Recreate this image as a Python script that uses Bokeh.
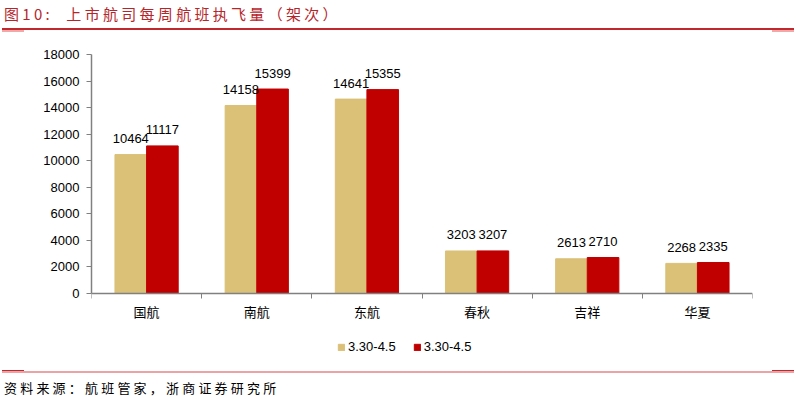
import numpy as np
from bokeh.plotting import figure
from bokeh.models import Range1d, FixedTicker, Legend, LegendItem, Div, CustomJSTickFormatter
from bokeh.layouts import column
from bokeh.core.properties import value
from bokeh.embed import file_html
from bokeh.resources import INLINE

# ---------------- data ----------------
categories = ["国航", "南航", "东航", "春秋", "吉祥", "华夏"]
series_a = [10464, 14158, 14641, 3203, 2613, 2268]
series_b = [11117, 15399, 15355, 3207, 2710, 2335]
legend_labels = ["3.30-4.5", "3.30-4.5"]
y_ticks = [0, 2000, 4000, 6000, 8000, 10000, 12000, 14000, 16000, 18000]
y_max = 18000
title_text = "图10:&nbsp;&nbsp;上市航司每周航班执飞量（架次）"
source_text = "资料来源：航班管家，浙商证券研究所"

COL_A = "#dbc077"
COL_B = "#c00000"
AXIS_COL = "#808080"

n = len(categories)
centers = np.arange(n) + 0.5
bw = 0.287
xa = centers - bw / 2
xb = centers + bw / 2

# layout: frame holds the value area (239 px) plus room below zero for labels & legend (69 px)
VAL_PX = 239
BELOW_PX = 69
y_min = -y_max * BELOW_PX / VAL_PX

# ---------------- title ----------------
title_div = Div(width=786, height=26, text=f"""
<div style="position:relative;width:786px;height:26px;">
  <div style="position:absolute;left:-1px;top:0px;font-family:'Noto Sans CJK SC';font-size:15px;line-height:18px;letter-spacing:3.3px;color:#b5262b;white-space:nowrap;">{title_text}</div>
  <div style="position:absolute;left:-3px;top:23px;width:792px;height:2px;background:#c0282d;"></div>
  <div style="position:absolute;left:-3px;top:25px;width:22px;height:2px;background:#f0a8a8;"></div>
  <div style="position:absolute;left:767px;top:25px;width:22px;height:2px;background:#f0a8a8;"></div>
</div>""")

# ---------------- plot ----------------
p = figure(width=786, height=18 + VAL_PX + BELOW_PX + 2,
           x_range=Range1d(0, n), y_range=Range1d(y_min, y_max),
           output_backend="svg", toolbar_location=None,
           min_border_left=91, min_border_right=34, min_border_top=18, min_border_bottom=2)
p.xgrid.visible = False
p.ygrid.visible = False
p.outline_line_color = None
p.background_fill_color = "white"
p.border_fill_color = "white"

ra = p.vbar(x=xa, top=series_a, width=bw, fill_color=COL_A, line_color=COL_A)
rb = p.vbar(x=xb, top=series_b, width=bw, fill_color=COL_B, line_color=COL_B)

p.text(x=xa, y=series_a, text=[str(v) for v in series_a], text_align="center",
       text_baseline="alphabetic", y_offset=-16, text_font=value("Liberation Sans"),
       text_font_size="13px", text_color="#000000")
p.text(x=xb, y=series_b, text=[str(v) for v in series_b], text_align="center",
       text_baseline="alphabetic", y_offset=-16, text_font=value("Liberation Sans"),
       text_font_size="13px", text_color="#000000")

# y axis
yax = p.yaxis[0]
yax.ticker = FixedTicker(ticks=y_ticks)
yax.bounds = (0, y_max)
yax.minor_tick_line_color = None
yax.major_tick_in = 0
yax.major_tick_out = 5
yax.major_tick_line_color = AXIS_COL
yax.axis_line_color = AXIS_COL
yax.axis_line_width = 1.5
yax.major_label_standoff = 7
yax.major_label_text_font = "Liberation Sans"
yax.major_label_text_font_size = "13px"
yax.major_label_text_color = "#000000"

# x axis, drawn at value 0
xax = p.xaxis[0]
xax.fixed_location = 0
xax.ticker = FixedTicker(ticks=list(centers), minor_ticks=list(range(n + 1)))
xax.formatter = CustomJSTickFormatter(args=dict(labels=categories),
                                      code="return labels[Math.floor(tick)] || '';")
xax.major_tick_line_color = None
xax.major_tick_in = 0
xax.major_tick_out = 5
xax.minor_tick_in = 0
xax.minor_tick_out = 5
xax.minor_tick_line_color = AXIS_COL
xax.axis_line_color = AXIS_COL
xax.axis_line_width = 1.5
xax.major_label_standoff = 3
xax.major_label_text_font = "Noto Sans CJK SC"
xax.major_label_text_font_size = "13px"
xax.major_label_text_color = "#000000"

legend = Legend(items=[LegendItem(label=legend_labels[0], renderers=[ra]),
                       LegendItem(label=legend_labels[1], renderers=[rb])],
                orientation="horizontal", location=(246, 8))
legend.glyph_width = 8
legend.glyph_height = 8
legend.label_standoff = 3
legend.spacing = 17
legend.padding = 0
legend.margin = 0
legend.label_height = 14
legend.border_line_color = None
legend.background_fill_alpha = 0
legend.label_text_font = "Liberation Sans"
legend.label_text_font_size = "13px"
legend.label_text_color = "#000000"
p.add_layout(legend)

# ---------------- source ----------------
source_div = Div(width=786, height=30, text=f"""
<div style="position:relative;width:786px;height:30px;">
  <div style="position:absolute;left:-3px;top:2px;width:792px;height:1.5px;background:#eba3a5;"></div>
  <div style="position:absolute;left:-3px;top:0.5px;width:22px;height:1.5px;background:#c0282d;"></div>
  <div style="position:absolute;left:767px;top:0.5px;width:22px;height:1.5px;background:#c0282d;"></div>
  <div style="position:absolute;left:-1px;top:11px;font-family:'Noto Sans CJK SC';font-size:13px;line-height:16px;letter-spacing:3.2px;color:#000000;white-space:nowrap;">{source_text}</div>
</div>""")

layout = column(title_div, p, source_div, spacing=0)

open("out.html", "w").write(file_html(layout, INLINE))
